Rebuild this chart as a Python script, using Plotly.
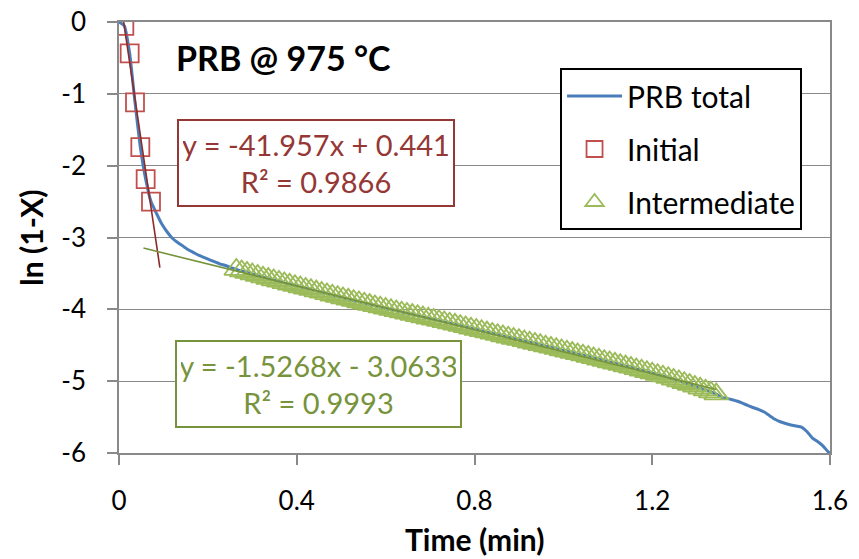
import plotly.graph_objects as go

# Reduction curve of PRB at 975 °C: ln(1-X) against time (min)
time_min = [
    0.000, 0.012, 0.024, 0.036, 0.048, 0.060, 0.072, 0.084, 0.096, 0.108,
    0.120, 0.132, 0.144, 0.156, 0.168, 0.180, 0.192, 0.204, 0.216, 0.228,
    0.240, 0.252, 0.264, 0.276, 0.288, 0.300, 0.312, 0.324, 0.336, 0.348,
    0.360, 0.372, 0.384, 0.396, 0.408, 0.420, 0.432, 0.444, 0.456, 0.468,
    0.480, 0.492, 0.504, 0.516, 0.528, 0.540, 0.552, 0.564, 0.576, 0.588,
    0.600, 0.612, 0.624, 0.636, 0.648, 0.660, 0.672, 0.684, 0.696, 0.708,
    0.720, 0.732, 0.744, 0.756, 0.768, 0.780, 0.792, 0.804, 0.816, 0.828,
    0.840, 0.852, 0.864, 0.876, 0.888, 0.900, 0.912, 0.924, 0.936, 0.948,
    0.960, 0.972, 0.984, 0.996, 1.008, 1.020, 1.032, 1.044, 1.056, 1.068,
    1.080, 1.092, 1.104, 1.116, 1.128, 1.140, 1.152, 1.164, 1.176, 1.188,
    1.200, 1.212, 1.224, 1.236, 1.248, 1.260, 1.272, 1.284, 1.296, 1.308,
    1.320, 1.332, 1.344, 1.356, 1.368, 1.380, 1.392, 1.404, 1.416, 1.428,
    1.440, 1.452, 1.464, 1.476, 1.488, 1.500, 1.512, 1.524, 1.536, 1.548,
    1.560, 1.572, 1.584, 1.596, 1.600,
]

ln_1_minus_x = [
    0.000, -0.053, -0.436, -1.120, -1.743, -2.188, -2.500, -2.660, -2.810, -2.920,
    -3.010, -3.070, -3.120, -3.170, -3.210, -3.250, -3.280, -3.310, -3.340, -3.370,
    -3.390, -3.420, -3.446, -3.467, -3.488, -3.509, -3.530, -3.552, -3.572, -3.592,
    -3.612, -3.632, -3.651, -3.670, -3.689, -3.708, -3.727, -3.746, -3.765, -3.785,
    -3.804, -3.823, -3.842, -3.861, -3.880, -3.898, -3.916, -3.934, -3.952, -3.970,
    -3.988, -4.005, -4.022, -4.039, -4.056, -4.073, -4.090, -4.107, -4.124, -4.141,
    -4.158, -4.175, -4.192, -4.209, -4.227, -4.245, -4.263, -4.281, -4.299, -4.317,
    -4.335, -4.353, -4.371, -4.389, -4.406, -4.423, -4.440, -4.458, -4.476, -4.494,
    -4.512, -4.530, -4.548, -4.566, -4.584, -4.602, -4.620, -4.638, -4.657, -4.676,
    -4.695, -4.714, -4.733, -4.752, -4.771, -4.790, -4.809, -4.829, -4.849, -4.869,
    -4.889, -4.910, -4.931, -4.952, -4.975, -4.998, -5.022, -5.047, -5.073, -5.099,
    -5.126, -5.153, -5.180, -5.225, -5.240, -5.258, -5.280, -5.310, -5.340, -5.370,
    -5.395, -5.430, -5.480, -5.530, -5.565, -5.590, -5.610, -5.625, -5.640, -5.700,
    -5.790, -5.840, -5.900, -5.985, -6.000,
]

# Index ranges (start, stop) of the two fitted regimes within the series
initial_span = (1, 7)
intermediate_span = (22, 113)

# Linear fits of each regime and the time span each trendline covers
initial_slope, initial_intercept, initial_r2 = -41.957, 0.441, 0.9866
initial_fit_x = [0.0, 0.092]
intermediate_slope, intermediate_intercept, intermediate_r2 = -1.5268, -3.0633, 0.9993
intermediate_fit_x = [0.055, 1.344]

x_ticks = [0, 0.4, 0.8, 1.2, 1.6]
y_ticks = [0, -1, -2, -3, -4, -5, -6]

FONT = "Lato"
BLUE = "#4A7EBB"
RED = "#C0504D"
DARK_RED = "#953735"
LIGHT_GREEN = "#9BBB59"
OLIVE = "#77933C"
GRID = "#898989"


def fit_line(xs, slope, intercept):
    return [slope * x + intercept for x in xs]


def equation(slope, intercept):
    sign = "-" if intercept < 0 else "+"
    return f"y = {slope}x {sign} {abs(intercept)}"


a, b = initial_span
c, d = intermediate_span

fig = go.Figure()

fig.add_trace(go.Scatter(
    x=time_min, y=ln_1_minus_x, mode="lines", name="PRB total",
    line=dict(color=BLUE, width=3, shape="spline", smoothing=0.5),
    legendgroup="g1",
))
fig.add_trace(go.Scatter(
    x=time_min[a:b], y=ln_1_minus_x[a:b], mode="markers", name="Initial",
    marker=dict(symbol="square-open", size=18, color=RED, line=dict(width=1.8, color=RED)),
    legendgroup="g2",
))
fig.add_trace(go.Scatter(
    x=time_min[c:d], y=ln_1_minus_x[c:d], mode="markers", name="Intermediate",
    marker=dict(symbol="triangle-up-open", size=21, color=LIGHT_GREEN,
                line=dict(width=1.8, color=LIGHT_GREEN)),
    legendgroup="g3",
))
fig.add_trace(go.Scatter(
    x=initial_fit_x, y=fit_line(initial_fit_x, initial_slope, initial_intercept),
    mode="lines", line=dict(color="#8E2B28", width=1.6), showlegend=False,
    hoverinfo="skip",
))
fig.add_trace(go.Scatter(
    x=intermediate_fit_x,
    y=fit_line(intermediate_fit_x, intermediate_slope, intermediate_intercept),
    mode="lines", line=dict(color=OLIVE, width=1.6), showlegend=False,
    hoverinfo="skip",
))

tick_font = dict(family=FONT, size=26, color="#000000")

fig.update_xaxes(
    range=[0, 1.6], tickvals=x_ticks, ticktext=[f"{v:g}" for v in x_ticks],
    showgrid=False, zeroline=False, showline=True, linecolor=GRID, linewidth=1.6,
    mirror=True, ticks="outside", ticklen=10, tickwidth=1.6, tickcolor=GRID,
    tickfont=tick_font, ticklabelstandoff=14,
)
fig.update_yaxes(
    range=[-6, 0], tickvals=y_ticks, ticktext=[f"{v:g}" for v in y_ticks],
    showgrid=True, gridcolor=GRID, gridwidth=1.3, zeroline=False,
    showline=True, linecolor=GRID, linewidth=1.6, mirror=True,
    ticks="outside", ticklen=10, tickwidth=1.6, tickcolor=GRID,
    tickfont=tick_font, ticklabelstandoff=16,
)

annotations = [
    dict(text="<b>PRB @ 975 °C</b>", x=0.078, y=0.9165, xanchor="left", yanchor="middle",
         font=dict(family=FONT, size=34, color="#000000")),
    dict(text="<b>Time (min)</b>", x=0.5, y=-0.2459, xanchor="center", yanchor="bottom",
         font=dict(family=FONT, size=30, color="#000000")),
    dict(text="<b>ln (1-X)</b>", x=-0.125, y=0.5, xanchor="center", yanchor="middle",
         textangle=-90, font=dict(family=FONT, size=30, color="#000000")),
    dict(text=f"{equation(initial_slope, initial_intercept)}<br>R² = {initial_r2}",
         x=0.277, y=0.672, xanchor="center", yanchor="middle", align="center",
         font=dict(family=FONT, size=29, color=DARK_RED), bgcolor="#FFFFFF",
         bordercolor=DARK_RED, borderwidth=2, borderpad=4, width=266, height=76),
    dict(text=f"{equation(intermediate_slope, intermediate_intercept)}<br>R² = {intermediate_r2}",
         x=0.2806, y=0.159, xanchor="center", yanchor="middle", align="center",
         font=dict(family=FONT, size=29, color=OLIVE), bgcolor="#FFFFFF",
         bordercolor=OLIVE, borderwidth=2, borderpad=4, width=275, height=76),
]
for ann in annotations:
    ann.update(xref="paper", yref="paper", showarrow=False)

fig.update_layout(
    width=859, height=559,
    margin=dict(l=119, r=29, t=22, b=106, autoexpand=False),
    paper_bgcolor="#FFFFFF", plot_bgcolor="#FFFFFF",
    font=dict(family=FONT, size=26, color="#000000"),
    showlegend=True,
    legend=dict(
        x=0.6203, y=0.8933, xanchor="left", yanchor="top",
        bgcolor="#FFFFFF", bordercolor="#000000", borderwidth=2,
        font=dict(family=FONT, size=30, color="#000000"),
        traceorder="grouped", tracegroupgap=11, itemwidth=55,
    ),
    annotations=annotations,
)

fig.write_html("out.html")
